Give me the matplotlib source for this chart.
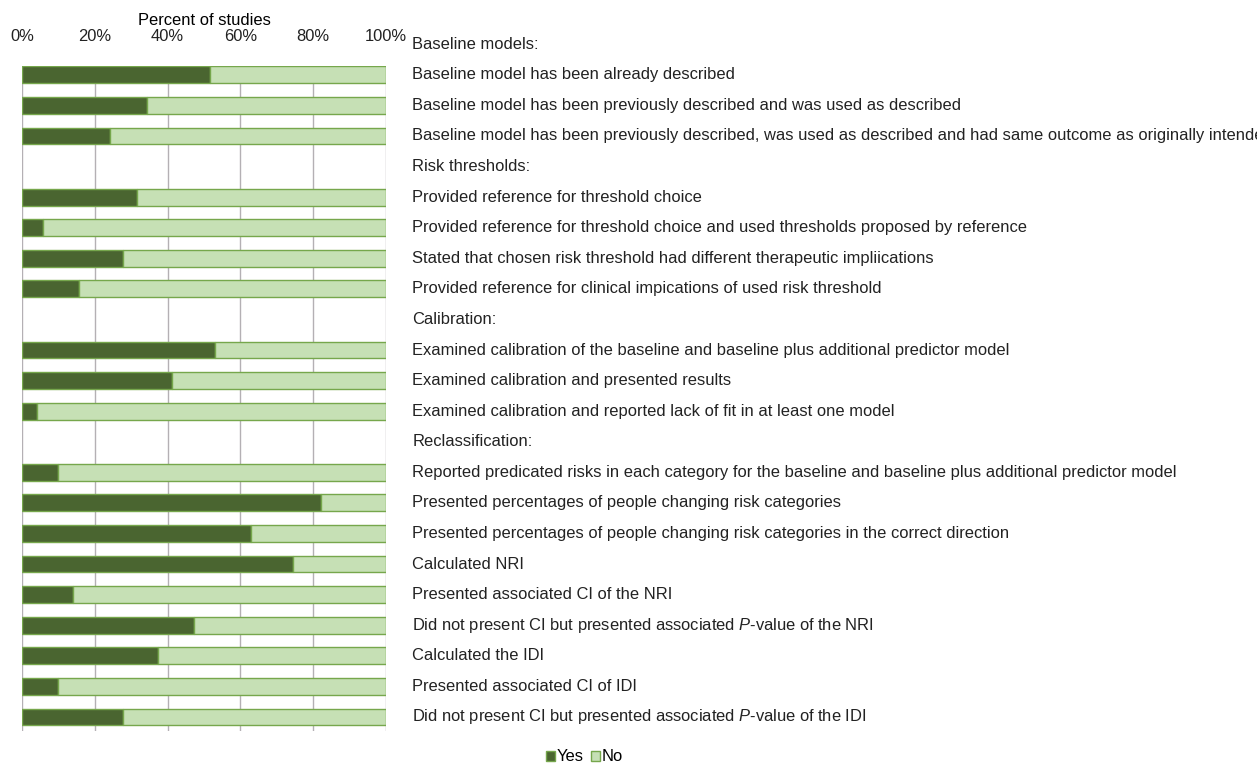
import matplotlib.pyplot as plt
from matplotlib.patches import Patch

plt.rcParams['font.family'] = ['Liberation Sans', 'DejaVu Sans']
plt.rcParams['mathtext.fontset'] = 'custom'
plt.rcParams['mathtext.rm'] = 'Liberation Sans'
plt.rcParams['mathtext.it'] = 'Liberation Sans:italic'

# rows top to bottom; None marks a section heading (no bar)
labels = [
    'Baseline models:',
    'Baseline model has been already described',
    'Baseline model has been previously described and was used as described',
    'Baseline model has been previously described, was used as described and had same outcome as originally intended',
    'Risk thresholds:',
    'Provided reference for threshold choice',
    'Provided reference for threshold choice and used thresholds proposed by reference',
    'Stated that chosen risk threshold had different therapeutic impliications',
    'Provided reference for clinical impications of used risk threshold',
    'Calibration:',
    'Examined calibration of the baseline and baseline plus additional predictor model',
    'Examined calibration and presented results',
    'Examined calibration and reported lack of fit in at least one model',
    'Reclassification:',
    'Reported predicated risks in each category for the baseline and baseline plus additional predictor model',
    'Presented percentages of people changing risk categories',
    'Presented percentages of people changing risk categories in the correct direction',
    'Calculated NRI',
    'Presented associated CI of the NRI',
    'Did not present CI but presented associated $\\mathit{P}$-value of the NRI',
    'Calculated the IDI',
    'Presented associated CI of IDI',
    'Did not present CI but presented associated $\\mathit{P}$-value of the IDI',
]
yes_pct = [None, 51.7, 34.4, 24.2,
           None, 31.5, 5.9, 27.7, 15.8,
           None, 53.1, 41.1, 4.1,
           None, 9.8, 82.3, 62.8, 74.5, 13.9, 47.2, 37.3, 9.8, 27.7]

dark = '#4a6530'
light = '#c6e0b5'
edge = '#76a74c'
fs = 11.9

fig = plt.figure(figsize=(12.57, 7.70), dpi=100)
ax = fig.add_axes([0.0175, 0.051, 0.2895, 0.863])

rows = list(range(len(labels)))
for r, v in zip(rows, yes_pct):
    if v is None:
        continue
    ax.barh(r, v, height=0.55, color=dark, edgecolor=edge, linewidth=1)
    ax.barh(r, 100 - v, left=v, height=0.55, color=light, edgecolor=edge, linewidth=1)

for r, lab in zip(rows, labels):
    ax.text(1.073, r, lab, transform=ax.get_yaxis_transform(),
            ha='left', va='center', fontsize=fs, color='#222222', clip_on=False)

ax.set_xlim(0, 100)
ax.set_ylim(22.45, 0.72)
ax.set_xticks([0, 20, 40, 60, 80, 100])
ax.set_xticklabels(['0%', '20%', '40%', '60%', '80%', '100%'], fontsize=fs)
ax.xaxis.tick_top()
ax.xaxis.set_label_position('top')
ax.set_xlabel('Percent of studies', fontsize=fs, labelpad=3)
ax.tick_params(axis='x', length=0, pad=16, colors='#222222')
ax.set_yticks([])
for s in ax.spines.values():
    s.set_visible(False)
ax.grid(axis='x', color='#b4b0b4', linewidth=1)
ax.set_axisbelow(True)

handles = [Patch(facecolor=dark, edgecolor=edge, label='Yes'),
           Patch(facecolor=light, edgecolor=edge, label='No')]
fig.legend(handles=handles, loc='center', bbox_to_anchor=(0.465, 0.017), ncol=2,
           frameon=False, fontsize=fs, handlelength=0.55, handleheight=0.55,
           handletextpad=0.1, columnspacing=0.4)

fig.savefig('out.png', dpi=100)
